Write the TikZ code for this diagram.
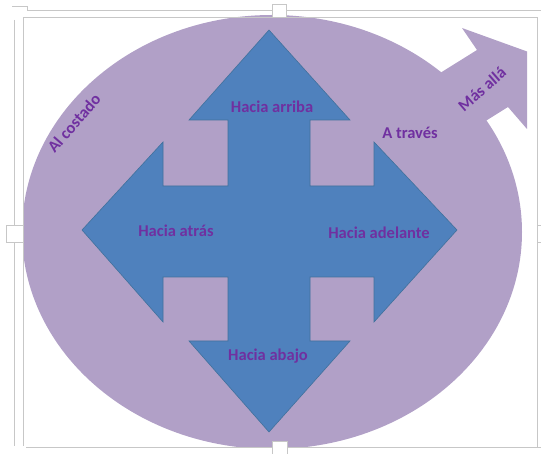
\documentclass[tikz,border=0pt]{standalone}
\usepackage{fontspec}
\setmainfont{Carlito}
\definecolor{lila}{HTML}{B1A0C7}
\definecolor{azul}{HTML}{4F81BD}
\definecolor{borde}{HTML}{41719C}
\definecolor{morado}{HTML}{7030A0}
\begin{document}
\begin{tikzpicture}[x=1pt,y=-1pt]
\tikzset{etiqueta/.style={text=morado, font=\fontsize{16.5}{18}\selectfont\bfseries, inner sep=0pt}}
\tikzset{marco/.style={draw=black!22, line width=0.9pt}}
\tikzset{asa/.style={marco, fill=white}}
\useasboundingbox (0,0) rectangle (541,454);
% elipse con flecha
\begin{scope}
\clip (23,15) rectangle (527,447);
\fill[lila] (272,232) ellipse [x radius=250, y radius=217];
\fill[lila] (392,103) -- (477,50) -- (462,28) -- (534,54) -- (527,129) -- (508,107) -- (423,160) -- cycle;
\end{scope}
% cruz de flechas
\filldraw[fill=azul, draw=borde, line width=0.6pt, line join=miter]
  (269,30) -- (350,120) -- (310,120) -- (310,186) -- (374,186) -- (374,142)
  -- (457,230) -- (374,322) -- (374,277) -- (310,277) -- (310,341) -- (350,341)
  -- (269,432) -- (189,341) -- (228,341) -- (228,277) -- (163,277) -- (163,322)
  -- (82,230) -- (163,142) -- (163,186) -- (228,186) -- (228,120) -- (189,120) -- cycle;
% textos
\node[etiqueta] (arriba) at (272,107) {Hacia arriba};
\node[etiqueta] (atras) at (176,231) {Hacia atrás};
\node[etiqueta] (adelante) at (379,233) {Hacia adelante};
\node[etiqueta] (abajo) at (268,356) {Hacia abajo};
\node[etiqueta] (traves) at (410,133) {A través};
\node[etiqueta, rotate=49] (costado) at (74,123) {Al costado};
\node[etiqueta, rotate=41] (masalla) at (482,89) {Más allá};
% marco
\draw[marco] (12,6) -- (27,6) -- (27,10) -- (541,10);
\draw[marco] (14,20) -- (14,446);
\draw[marco] (23,446) -- (23,17) -- (537,17) -- (537,447);
\draw[marco] (26,447) -- (541,447);
\draw[asa] (272,4) rectangle (286,17);
\draw[asa] (6,225) rectangle (23,242);
\draw[asa] (537,225) rectangle (543,242);
\draw[asa] (272,441) rectangle (287,456);
\end{tikzpicture}
\end{document}
